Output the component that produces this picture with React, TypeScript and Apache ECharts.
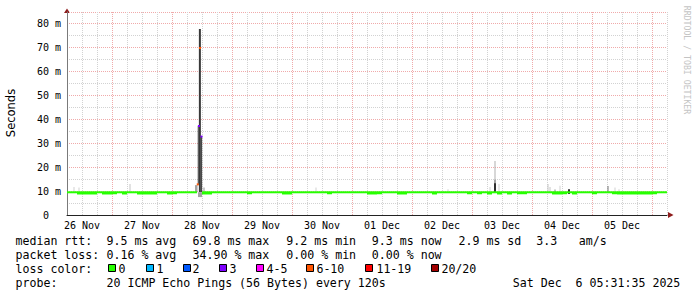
import React, { useEffect, useRef } from "react";
import * as echarts from "echarts";

// ---------- data ----------
const dayLabels = ["26 Nov", "27 Nov", "28 Nov", "29 Nov", "30 Nov", "01 Dec", "02 Dec", "03 Dec", "04 Dec", "05 Dec"];

// median rtt per 2-hour bucket (bucket i covers hours 6+2i .. 8+2i since 26 Nov 00:00), ms
const medianHigh = [
  9.5, 9.5, 9.5, 9.5, 9.5, 9.5, 9.5, 9.5, 9.5, 9.5, 9.5, 9.5,
  9.5, 9.5, 9.5, 9.5, 9.5, 9.5, 9.5, 9.5, 9.5, 9.5, 9.5, 9.5,
  9.5, 9.5, null, 9.5, 9.5, 9.5, 9.5, 9.5, 9.5, 9.5, 9.5, 9.5,
  9.5, 9.5, 9.5, 9.5, 9.5, 9.5, 9.5, 9.5, 9.5, 9.5, 9.5, 9.5,
  9.5, 9.5, 9.5, 9.5, 9.5, 9.5, 9.5, 9.5, 9.5, 9.5, 9.5, 9.5,
  9.5, 9.5, 9.5, 9.5, 9.5, 9.5, 9.5, 9.5, 9.5, 9.5, 9.5, 9.5,
  9.5, 9.5, 9.5, 9.5, 9.5, 9.5, 9.5, 9.5, 9.5, 9.5, 9.5, 9.5,
  9.5, 9.5, 9.5, 9.5, 9.5, 9.5, 9.5, 9.5, 9.5, 9.5, 9.5, 9.5,
  9.5, 9.5, 9.5, 9.5, 9.5, 9.5, 9.5, 9.5, 9.5, 9.5, 9.5, 9.5,
  9.5, 9.5, 9.5, 9.5, 9.5, 9.5, 9.5, 9.5, 9.5, 9.5, 9.5, 9.5,
];
const medianLow = [
  9.5, 9.5, 9.0, 9.0, 9.0, 9.0, 9.5, 9.0, 9.0, 9.1, 9.5, 9.0,
  9.5, 9.5, 9.0, 9.0, 9.0, 9.0, 9.5, 9.5, 9.0, 9.1, 9.5, 9.5,
  9.5, 9.5, null, 9.0, 9.0, 9.5, 9.5, 9.5, 9.5, 9.5, 9.5, 9.5,
  9.1, 9.5, 9.5, 9.5, 9.5, 9.5, 9.5, 9.0, 9.0, 9.5, 9.5, 9.5,
  9.5, 9.5, 9.5, 9.5, 9.1, 9.5, 9.5, 9.5, 9.5, 9.5, 9.5, 9.5,
  9.0, 9.0, 9.1, 9.5, 9.5, 9.5, 9.0, 9.0, 9.5, 9.5, 9.5, 9.5,
  9.5, 9.0, 9.5, 9.5, 9.5, 9.5, 9.5, 9.5, 9.1, 9.5, 9.1, 9.5,
  9.0, 9.5, 9.0, 9.5, 9.0, 9.5, 9.1, 9.1, 9.5, 9.5, 9.5, 9.5,
  9.5, 9.0, 9.0, 9.1, 9.5, 9.0, 9.5, 9.5, 9.5, 9.1, 9.5, 9.5,
  9.5, 9.1, 9.0, 9.0, 9.0, 9.0, 9.0, 9.0, 9.0, 9.1, 9.5, 9.5,
];

// smoke: [startHour, endHour, low ms, high ms, density 0..1]
const smoke = [
  [8.6, 9.0, 9.5, 11.7, 0.2],
  [10.6, 11.0, 9.5, 11.5, 0.2],
  [31.0, 31.4, 9.5, 13.0, 0.25],
  [57.2, 58.2, 9.5, 12.5, 0.4],
  [58.3, 58.65, 12.6, 37.3, 0.9],
  [58.75, 59.55, 9.5, 77.8, 0.86],
  [59.65, 60.0, 9.5, 32.7, 0.9],
  [58.4, 60.0, 7.5, 9.5, 0.4],
  [60.5, 61.1, 9.5, 11.5, 0.3],
  [105.4, 105.8, 9.5, 11.5, 0.2],
  [158.2, 158.6, 9.5, 10.8, 0.2],
  [175.0, 175.4, 9.5, 11.7, 0.2],
  [177.0, 177.4, 9.5, 22.6, 0.35],
  [177.0, 177.4, 9.5, 14.7, 0.6],
  [176.8, 177.6, 9.5, 13.3, 0.9],
  [178.6, 179.0, 9.5, 13.0, 0.2],
  [198.2, 198.6, 9.5, 13.0, 0.25],
  [199.0, 199.4, 9.5, 11.7, 0.25],
  [201.0, 201.4, 9.5, 10.7, 0.55],
  [203.0, 203.4, 9.5, 12.2, 0.2],
  [206.4, 207.2, 8.8, 10.8, 0.9],
  [222.2, 222.6, 9.5, 12.1, 0.6],
  [225.0, 225.4, 9.5, 11.5, 0.2],
  [226.6, 227.0, 9.5, 10.8, 0.2],
];

// median points with packet loss: [hour, ms, loss colour index]
const lossPoints = [
  [58.3, 12.8, 5],
  [58.8, 37.2, 3],
  [59.2, 69.8, 5],
  [59.8, 32.8, 3],
];

const lossLabels = ["0", "1", "2", "3", "4-5", "6-10", "11-19", "20/20"];
const lossColors = ["#26ff00", "#00b8ff", "#0059ff", "#7e00ff", "#ff00ff", "#ff5500", "#ff0000", "#a10000"];

const rttLine = ["median rtt:", "9.5 ms avg", "69.8 ms max", "9.2 ms min", "9.3 ms now", "2.9 ms sd", "3.3", "am/s"];
const lossLine = ["packet loss:", "0.16 % avg", "34.90 % max", "0.00 % min", "0.00 % now"];
const probeLine = ["probe:", "20 ICMP Echo Pings (56 Bytes) every 120s"];
const dateText = "Sat Dec\u00a0 6 05:31:35 2025";

// ---------- layout ----------
const MONO = "DejaVu Sans Mono";
const colX = [15.5, 106.5, 192.5, 286.3, 371.8, 458.5, 536.3, 578.8];
const rowY = [240.6, 255.0, 269.0, 283.3];
const boxX = [108, 146, 183, 219, 256, 306, 365, 431];
const boxLabelX = [118.6, 156.6, 192.6, 229.6, 266.6, 316.4, 376.4, 441.4];

const GRID_MINOR = "#d2d2d2";
const GRID_MAJOR = "#f0aaaa";

function buildOption() {
  const medianData = medianHigh.map((hi, i) => [6 + 2 * i, 8 + 2 * i, medianLow[i], hi]);
  const graphics: any[] = [];
  const legendFont = { fontFamily: MONO, fontSize: 11.6, fill: "#000" };
  const addRow = (items: string[], row: number) => {
    items.forEach((t, k) => {
      graphics.push({
        type: "text", x: colX[k], y: rowY[row], silent: true,
        style: { text: t, ...legendFont, align: "left", verticalAlign: "middle" },
      });
    });
  };
  addRow(rttLine, 0);
  addRow(lossLine, 1);
  graphics.push({
    type: "text", x: colX[0], y: rowY[2],
    style: { text: "loss color:", ...legendFont, align: "left", verticalAlign: "middle" },
  });
  lossLabels.forEach((l, k) => {
    graphics.push({
      type: "rect", shape: { x: boxX[k] + 0.5, y: 264.5, width: 7, height: 7 },
      style: { fill: lossColors[k], stroke: "#000", lineWidth: 1 },
    });
    graphics.push({
      type: "text", x: boxLabelX[k], y: rowY[2],
      style: { text: l, ...legendFont, align: "left", verticalAlign: "middle" },
    });
  });
  addRow(probeLine, 3);
  graphics.push({
    type: "text", x: 512.8, y: rowY[3],
    style: { text: dateText, ...legendFont, align: "left", verticalAlign: "middle" },
  });
  // y axis title
  graphics.push({
    type: "text", x: 11, y: 113, rotation: Math.PI / 2,
    style: { text: "Seconds", fontFamily: "DejaVu Sans", fontSize: 11.5, fill: "#000", align: "center", verticalAlign: "middle" },
  });
  // watermark
  graphics.push({
    type: "text", x: 687, y: 60, rotation: -Math.PI / 2,
    style: { text: "RRDTOOL / TOBI OETIKER", fontFamily: MONO, fontSize: 8.2, fill: "#c4c4c4", align: "center", verticalAlign: "middle" },
  });
  // axis arrows
  graphics.push({ type: "polygon", shape: { points: [[64, 13], [70, 13], [67, 8.5]] }, style: { fill: "#8e1c1c" } });
  graphics.push({ type: "polygon", shape: { points: [[668, 212], [668, 218], [673.5, 215]] }, style: { fill: "#8e1c1c" } });

  return {
    animation: false,
    backgroundColor: "#ffffff",
    grid: { left: 67, top: 12, width: 600, height: 203, containLabel: false },
    xAxis: {
      type: "value", min: 6, max: 246, interval: 6,
      axisLine: { show: true, lineStyle: { color: "#222", width: 1 } },
      axisTick: { show: false },
      axisLabel: {
        margin: 5, fontFamily: MONO, fontSize: 10, color: "#000",
        formatter: (v: number) => (v % 24 === 12 ? dayLabels[(v - 12) / 24] || "" : ""),
      },
      splitLine: { show: true, lineStyle: { color: [GRID_MINOR, GRID_MINOR, GRID_MINOR, GRID_MAJOR], type: [1, 1], width: 1 } },
    },
    yAxis: {
      type: "value", min: 0, max: 84.9, interval: 10,
      axisLine: { show: true, lineStyle: { color: "#7a7a7a", width: 1 } },
      axisTick: { show: false },
      minorTick: { show: false, splitNumber: 2 },
      minorSplitLine: { show: true, lineStyle: { color: GRID_MINOR, type: [1, 1], width: 1 } },
      splitLine: { show: true, lineStyle: { color: GRID_MAJOR, type: [1, 1], width: 1 } },
      axisLabel: {
        margin: 6, fontFamily: MONO, fontSize: 10, color: "#000",
        showMaxLabel: false,
        formatter: (v: number) => (v === 0 ? "{z|0}" : v > 80 ? "" : `${v} m`),
        rich: { z: { fontFamily: MONO, fontSize: 10, color: "#000", padding: [0, 12, 0, 0] } },
      },
    },
    series: [
      {
        type: "custom", name: "smoke", clip: true, z: 2,
        encode: { x: [0, 1], y: [2, 3] },
        data: smoke,
        renderItem: (params: any, api: any) => {
          const a = api.coord([api.value(0), api.value(3)]);
          const b = api.coord([api.value(1), api.value(2)]);
          const g = Math.round(255 - 230 * api.value(4));
          return {
            type: "rect",
            shape: { x: a[0], y: a[1], width: Math.max(1, b[0] - a[0]), height: b[1] - a[1] },
            style: { fill: `rgb(${g},${g},${g})` },
          };
        },
      },
      {
        type: "custom", name: "median", clip: true, z: 3,
        encode: { x: [0, 1], y: [2, 3] },
        data: medianData,
        renderItem: (params: any, api: any) => {
          const hi = api.value(3);
          const lo = api.value(2);
          if (hi == null || isNaN(hi)) return null;
          const a = api.coord([api.value(0), hi]);
          const b = api.coord([api.value(1), lo]);
          return {
            type: "rect",
            shape: { x: a[0], y: a[1] - 1, width: b[0] - a[0], height: b[1] - a[1] + 2 },
            style: { fill: lossColors[0] },
          };
        },
      },
      {
        type: "custom", name: "loss", clip: true, z: 4,
        encode: { x: 0, y: 1 },
        data: lossPoints,
        renderItem: (params: any, api: any) => {
          const p = api.coord([api.value(0), api.value(1)]);
          return {
            type: "rect",
            shape: { x: p[0] - 1, y: p[1] - 1, width: 2, height: 2 },
            style: { fill: lossColors[api.value(2)] },
          };
        },
      },
    ],
    graphic: graphics,
  };
}

export default function App() {
  const ref = useRef<HTMLDivElement>(null);
  useEffect(() => {
    const chart = echarts.init(ref.current!, null, { renderer: "svg" });
    chart.setOption(buildOption() as any);
    return () => chart.dispose();
  }, []);
  return (
    <div
      ref={ref}
      style={{ position: "fixed", left: 0, top: 0, width: 697, height: 297, background: "#fff" }}
    />
  );
}
